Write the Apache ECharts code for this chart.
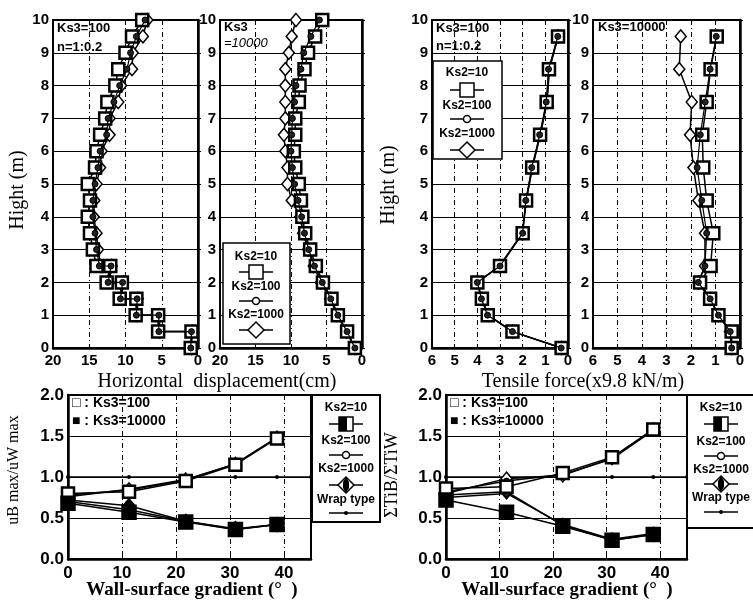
<!DOCTYPE html>
<html><head><meta charset="utf-8">
<script src="https://cdn.jsdelivr.net/npm/echarts@6/dist/echarts.min.js"></script>
<style>html,body{margin:0;padding:0;background:#fff}#c{width:753px;height:608px}</style>
</head><body><div id="c"></div>
<script>
// ---------- DATA ----------
// Panel 1: horizontal displacement (cm) vs height (m), Ks3=100, n=1:0.2
const hd100_ks10 = [[7.7,10],[9.1,9.5],[10.0,9],[11.0,8.5],[11.4,8],[12.5,7.5],[12.8,7],[13.5,6.5],[14.0,6],[14.2,5.5],[15.2,5],[14.9,4.5],[15.2,4],[14.9,3.5],[14.5,3],[14.0,2.5],[12.1,2.5],[12.6,2],[10.5,2],[10.8,1.5],[8.5,1.5],[8.6,1],[5.5,1],[5.5,0.5],[0.9,0.5],[1.0,0]];
const hd100_ks100 = [[7.3,10],[8.5,9.5],[9.3,9],[9.8,8.5],[10.8,8],[11.6,7.5],[12.4,7],[12.6,6.5],[13.5,6],[13.8,5.5],[14.2,5],[14.5,4.5],[14.5,4],[14.2,3.5],[14.0,3],[13.6,2.5],[12.0,2.5],[12.4,2],[10.4,2],[10.7,1.5],[8.4,1.5],[8.5,1],[5.4,1],[5.4,0.5],[0.9,0.5],[1.0,0]];
const hd100_ks1000 = [[7.0,10],[7.6,9.5],[9.0,9],[9.1,8.5],[10.6,8],[11.0,7.5],[12.2,7],[12.2,6.5],[13.3,6],[13.5,5.5],[14.0,5],[14.3,4.5],[14.4,4],[14.0,3.5],[13.8,3],[13.4,2.5],[11.9,2.5],[12.3,2],[10.3,2],[10.6,1.5],[8.3,1.5],[8.4,1],[5.3,1],[5.3,0.5],[0.8,0.5],[0.9,0]];
// Panel 2: Ks3=10000
const hdHeights = [10,9.5,9,8.5,8,7.5,7,6.5,6,5.5,5,4.5,4,3.5,3,2.5,2,1.5,1,0.5,0];
const hd10000_ks10 = [5.6,6.6,7.6,8.1,8.8,8.9,9.4,9.4,9.6,9.4,8.9,8.6,8.4,8.0,7.3,6.5,5.5,4.3,3.4,2.1,1.0];
const hd10000_ks100 = [6.0,7.2,8.2,8.6,9.3,9.5,9.8,9.9,10.0,9.8,9.5,9.0,8.5,8.1,7.5,6.7,5.6,4.4,3.4,2.1,1.0];
const hd10000_ks1000 = [9.3,9.9,10.3,10.8,10.8,10.8,10.8,11.0,10.8,10.5,10.5,9.9,8.7,8.3,7.6,6.8,5.8,4.5,3.5,2.2,1.0];
// Panels 3,4: tensile force (x9.8 kN/m) vs height
const tfHeights = [9.5,8.5,7.5,6.5,5.5,4.5,3.5,2.5,2.0,1.5,1.0,0.5,0];
const tf100_ks10 = [0.44,0.84,0.94,1.23,1.58,1.85,2.0,3.0,4.0,3.8,3.54,2.45,0.28];
const tf100_ks100 = [0.45,0.86,0.96,1.25,1.6,1.86,2.0,3.0,4.0,3.82,3.55,2.45,0.3];
const tf100_ks1000 = [0.43,0.82,0.92,1.22,1.57,1.84,2.02,3.02,4.02,3.8,3.52,2.44,0.28];
const tf10000_ks10 = [0.95,1.2,1.36,1.54,1.5,1.36,1.09,1.2,1.63,1.22,0.88,0.34,0.34];
const tf10000_ks100 = [0.97,1.22,1.42,1.62,1.75,1.56,1.36,1.43,1.7,1.22,0.88,0.4,0.34];
const tf10000_ks1000 = [2.42,2.48,1.97,2.04,1.9,1.7,1.43,1.43,1.7,1.22,0.88,0.41,0.34];
// Panels 5,6: ratios vs wall-surface gradient (deg)
const gradients = [0, 11.3, 21.8, 31.0, 38.7];
const uR_100_ks10 = [0.80,0.82,0.95,1.15,1.47];
const uR_100_ks100 = [0.78,0.84,0.96,1.16,1.48];
const uR_100_ks1000 = [0.76,0.85,0.97,1.16,1.48];
const uR_10000_ks10 = [0.68,0.57,0.45,0.36,0.42];
const uR_10000_ks100 = [0.70,0.60,0.46,0.36,0.42];
const uR_10000_ks1000 = [0.72,0.65,0.46,0.37,0.42];
const tR_100_ks10 = [0.86,0.88,1.05,1.24,1.58];
const tR_100_ks100 = [0.82,0.95,1.03,1.22,1.57];
const tR_100_ks1000 = [0.80,0.98,1.02,1.23,1.58];
const tR_10000_ks10 = [0.72,0.57,0.40,0.23,0.30];
const tR_10000_ks100 = [0.75,0.80,0.42,0.24,0.31];
const tR_10000_ks1000 = [0.78,0.82,0.41,0.23,0.30];
const wrapGradients = [0, 11.3, 21.8, 31.0, 38.7, 45];
const wrapValues = [1, 1, 1, 1, 1, 1];

// ---------- STYLE HELPERS ----------
const SANS = 'Liberation Sans';
const SERIF = 'Liberation Serif';
const grids = [
  {left:53, top:20, width:145, height:328},
  {left:220, top:20, width:142, height:328},
  {left:432, top:20, width:136, height:328},
  {left:593, top:20, width:147, height:328},
  {left:68, top:395, width:243, height:164},
  {left:446, top:395, width:241, height:164}
].map(g => Object.assign({show:true, borderColor:'#000', borderWidth:2, backgroundColor:'transparent', containLabel:false}, g));

function xAx(gi, min, max, interval, inverse, fs, margin, fmt) {
  return {type:'value', gridIndex:gi, min, max, interval, inverse,
    axisLine:{show:true, lineStyle:{color:'#000', width:2.5}},
    axisTick:{show:true, inside:true, length:3, lineStyle:{color:'#000'}},
    axisLabel:{color:'#000', fontFamily:SANS, fontWeight:'bold', fontSize:fs, margin, showMaxLabel: fmt ? false : true, formatter: fmt || (v=>String(v))},
    splitLine:{show:true, lineStyle:{color:'#000', width:1, type:[5,3,1,3]}}};
}
function yAx(gi, min, max, interval, fs, fmt) {
  return {type:'value', gridIndex:gi, min, max, interval,
    axisLine:{show:true, lineStyle:{color:'#000', width:2.5}},
    axisTick:{show:true, inside:true, length:3, lineStyle:{color:'#000'}},
    axisLabel:{color:'#000', fontFamily:SANS, fontWeight:'bold', fontSize:fs, margin:4, formatter: fmt || (v=>String(v))},
    splitLine:{show:true, lineStyle:{color:'#000', width:1}}};
}
const xAxes = [
  xAx(0,0,20,5,true,15,5), xAx(1,0,20,5,true,15,5),
  xAx(2,0,6,1,true,15,5), xAx(3,0,6,1,true,15,5),
  xAx(4,0,45,10,false,17,6,v=>v>44?'':String(v)), xAx(5,0,45,10,false,17,6,v=>v>44?'':String(v))
];
const yAxes = [
  yAx(0,0,10,1,15), yAx(1,0,10,1,15), yAx(2,0,10,1,15), yAx(3,0,10,1,15),
  yAx(4,0,2,0.5,17,v=>v.toFixed(1)), yAx(5,0,2,0.5,17,v=>v.toFixed(1))
];

const SYM = {
  sq:{symbol:'rect', symbolSize:12, fill:'#fff', bw:2.5},
  sqF:{symbol:'rect', symbolSize:14, fill:'#000', bw:1.5},
  ci:{symbol:'circle', symbolSize:6, fill:'#222', bw:1},
  di:{symbol:'diamond', symbolSize:[11,13], fill:'#fff', bw:1.5},
  diF:{symbol:'diamond', symbolSize:[12,14], fill:'#000', bw:1.5},
  dot:{symbol:'circle', symbolSize:4, fill:'#000', bw:0}
};
function ser(name, gi, data, s, lw, z) {
  const st = SYM[s];
  return {type:'line', name, xAxisIndex:gi, yAxisIndex:gi, data,
    symbol:st.symbol, symbolSize:st.symbolSize, showSymbol:true, z: z||2,
    lineStyle:{color:'#000', width: lw==null?1.5:lw},
    itemStyle:{color:st.fill, borderColor:'#000', borderWidth:st.bw},
    emphasis:{disabled:true}, silent:true};
}
const zipH = (vals, hs) => vals.map((v,i)=>[v, hs[i]]);
const zipG = (vals) => gradients.map((g,i)=>[g, vals[i]]);

const series = [
  ser('Ks2=1000 (Ks3=100)',0,hd100_ks1000,'di'),
  ser('Ks2=10 (Ks3=100)',0,hd100_ks10,'sq',1.5,3),
  ser('Ks2=100 (Ks3=100)',0,hd100_ks100,'ci',1.2,4),
  ser('Ks2=1000 (Ks3=10000)',1,zipH(hd10000_ks1000,hdHeights),'di'),
  ser('Ks2=10 (Ks3=10000)',1,zipH(hd10000_ks10,hdHeights),'sq',1.5,3),
  ser('Ks2=100 (Ks3=10000)',1,zipH(hd10000_ks100,hdHeights),'ci',1.2,4),
  ser('TF Ks2=1000 (Ks3=100)',2,zipH(tf100_ks1000,tfHeights),'di'),
  ser('TF Ks2=10 (Ks3=100)',2,zipH(tf100_ks10,tfHeights),'sq',1.5,3),
  ser('TF Ks2=100 (Ks3=100)',2,zipH(tf100_ks100,tfHeights),'ci',1.2,4),
  ser('TF Ks2=1000 (Ks3=10000)',3,zipH(tf10000_ks1000,tfHeights),'di'),
  ser('TF Ks2=10 (Ks3=10000)',3,zipH(tf10000_ks10,tfHeights),'sq',1.5,3),
  ser('TF Ks2=100 (Ks3=10000)',3,zipH(tf10000_ks100,tfHeights),'ci',1.2,4),
  ser('Wrap type u',4,wrapGradients.map((g,i)=>[g,wrapValues[i]]),'dot',1.5,1),
  ser('u Ks3=100 Ks2=1000',4,zipG(uR_100_ks1000),'di'),
  ser('u Ks3=100 Ks2=100',4,zipG(uR_100_ks100),'ci'),
  ser('u Ks3=100 Ks2=10',4,zipG(uR_100_ks10),'sq',1.5,3),
  ser('u Ks3=10000 Ks2=1000',4,zipG(uR_10000_ks1000),'diF'),
  ser('u Ks3=10000 Ks2=100',4,zipG(uR_10000_ks100),'ci'),
  ser('u Ks3=10000 Ks2=10',4,zipG(uR_10000_ks10),'sqF',1.5,3),
  ser('Wrap type T',5,wrapGradients.map((g,i)=>[g,wrapValues[i]]),'dot',1.5,1),
  ser('T Ks3=100 Ks2=1000',5,zipG(tR_100_ks1000),'di'),
  ser('T Ks3=100 Ks2=100',5,zipG(tR_100_ks100),'ci'),
  ser('T Ks3=100 Ks2=10',5,zipG(tR_100_ks10),'sq',1.5,3),
  ser('T Ks3=10000 Ks2=1000',5,zipG(tR_10000_ks1000),'diF'),
  ser('T Ks3=10000 Ks2=100',5,zipG(tR_10000_ks100),'ci'),
  ser('T Ks3=10000 Ks2=10',5,zipG(tR_10000_ks10),'sqF',1.5,3)
];

// ---------- GRAPHIC (titles, annotations, legend boxes) ----------
const G = [];
function txt(t, x, y, o) {
  o = o || {};
  G.push({type:'text', x, y, rotation:o.rot||0, z:50,
    style:{text:t, fill:'#000', font:(o.style||'')+' '+(o.weight||'normal')+' '+(o.size||13)+'px "'+(o.family||SANS)+'"',
      textAlign:o.align||'left', textVerticalAlign:o.valign||'middle'}});
}
function legSym(kind, cx, cy) {
  G.push({type:'line', z:51, shape:{x1:cx-17,y1:cy,x2:cx+17,y2:cy}, style:{stroke:'#000', lineWidth:1.5}});
  if (kind==='sq') G.push({type:'rect', z:52, shape:{x:cx-7,y:cy-7,width:14,height:14}, style:{fill:'#fff',stroke:'#000',lineWidth:1.5}});
  if (kind==='half') { G.push({type:'rect', z:52, shape:{x:cx-7,y:cy-7,width:14,height:14}, style:{fill:'#fff',stroke:'#000',lineWidth:1.5}});
    G.push({type:'rect', z:53, shape:{x:cx-7,y:cy-7,width:8,height:14}, style:{fill:'#000'}}); }
  if (kind==='ci') G.push({type:'circle', z:52, shape:{cx,cy,r:3.5}, style:{fill:'#fff',stroke:'#000',lineWidth:1.5}});
  if (kind==='di') G.push({type:'polygon', z:52, shape:{points:[[cx,cy-8],[cx+8,cy],[cx,cy+8],[cx-8,cy]]}, style:{fill:'#fff',stroke:'#000',lineWidth:1.5}});
  if (kind==='diH') { G.push({type:'polygon', z:52, shape:{points:[[cx,cy-8],[cx+8,cy],[cx,cy+8],[cx-8,cy]]}, style:{fill:'#fff',stroke:'#000',lineWidth:1.5}});
    G.push({type:'polygon', z:53, shape:{points:[[cx,cy-8],[cx+3,cy-3],[cx+3,cy+3],[cx,cy+8],[cx-3,cy+3],[cx-3,cy-3]]}, style:{fill:'#000'}}); }
  if (kind==='dot') G.push({type:'circle', z:52, shape:{cx,cy,r:2}, style:{fill:'#000'}});
}
function box(x,y,w,h,lw) {
  G.push({type:'rect', z:49, shape:{x,y,width:w,height:h}, style:{fill:'#fff',stroke:'#000',lineWidth:lw||1.5}});
}
// axis titles
txt('Hight (m)', 18, 190, {rot:Math.PI/2, family:SERIF, size:20, align:'center'});
txt('Hight (m)', 389, 185, {rot:Math.PI/2, family:SERIF, size:20, align:'center'});
txt('Horizontal  displacement(cm)', 217, 382, {family:SERIF, size:20, align:'center'});
txt('Tensile force(x9.8 kN/m)', 583, 382, {family:SERIF, size:20, align:'center'});
txt('Wall-surface gradient (°  )', 192, 590, {family:SERIF, size:19, align:'center', weight:'bold'});
txt('Wall-surface gradient (°  )', 567, 590, {family:SERIF, size:19, align:'center', weight:'bold'});
txt('uB max/uW max', 14, 470, {rot:Math.PI/2, family:SERIF, size:16, align:'center'});
txt('ΣTiB/ΣTiW', 392, 475, {rot:Math.PI/2, family:SERIF, size:18, align:'center'});
// in-panel annotations
txt('Ks3=100', 57, 28, {size:13, weight:'bold'});
txt('n=1:0.2', 57, 47, {size:13, weight:'bold'});
txt('Ks3', 224, 27, {size:13, weight:'bold'});
txt('=10000', 224, 43, {size:13, style:'italic'});
txt('Ks3=100', 436, 28, {size:13, weight:'bold'});
txt('n=1:0.2', 436, 46, {size:13, weight:'bold'});
txt('Ks3=10000', 598, 27, {size:13, weight:'bold'});
txt('□ : Ks3=100', 72, 403, {size:14, weight:'bold'});
txt('■ : Ks3=10000', 72, 421, {size:14, weight:'bold'});
txt('□ : Ks3=100', 450, 403, {size:14, weight:'bold'});
txt('■ : Ks3=10000', 450, 421, {size:14, weight:'bold'});
// legend box panel 2
box(223,243,67,101);
[['Ks2=10',257],['Ks2=100',287],['Ks2=1000',315]].forEach(r=>txt(r[0],256,r[1],{size:12,weight:'bold',align:'center'}));
legSym('sq',256,272); legSym('ci',256,301); legSym('di',256,330);
// legend box panel 3
box(433,61,69,98);
[['Ks2=10',73],['Ks2=100',106],['Ks2=1000',134]].forEach(r=>txt(r[0],467,r[1],{size:12,weight:'bold',align:'center'}));
legSym('sq',467,90); legSym('ci',467,119); legSym('di',467,150);
// legend box panel 5
box(312,395,68,127,2);
[['Ks2=10',408],['Ks2=100',441],['Ks2=1000',469],['Wrap type',500]].forEach(r=>txt(r[0],346,r[1],{size:12,weight:'bold',align:'center'}));
legSym('half',346,424); legSym('ci',346,455); legSym('diH',346,485); legSym('dot',346,513);
// legend box panel 6
box(687,395,70,133,2);
[['Ks2=10',408],['Ks2=100',442],['Ks2=1000',470],['Wrap type',498]].forEach(r=>txt(r[0],721,r[1],{size:12,weight:'bold',align:'center'}));
legSym('half',721,424); legSym('ci',721,456); legSym('diH',721,484); legSym('dot',721,512);

const chart = echarts.init(document.getElementById('c'), null, {renderer:'canvas'});
chart.setOption({
  animation:false, backgroundColor:'#fff',
  grid:grids, xAxis:xAxes, yAxis:yAxes, series, graphic:G
});
</script></body></html>
